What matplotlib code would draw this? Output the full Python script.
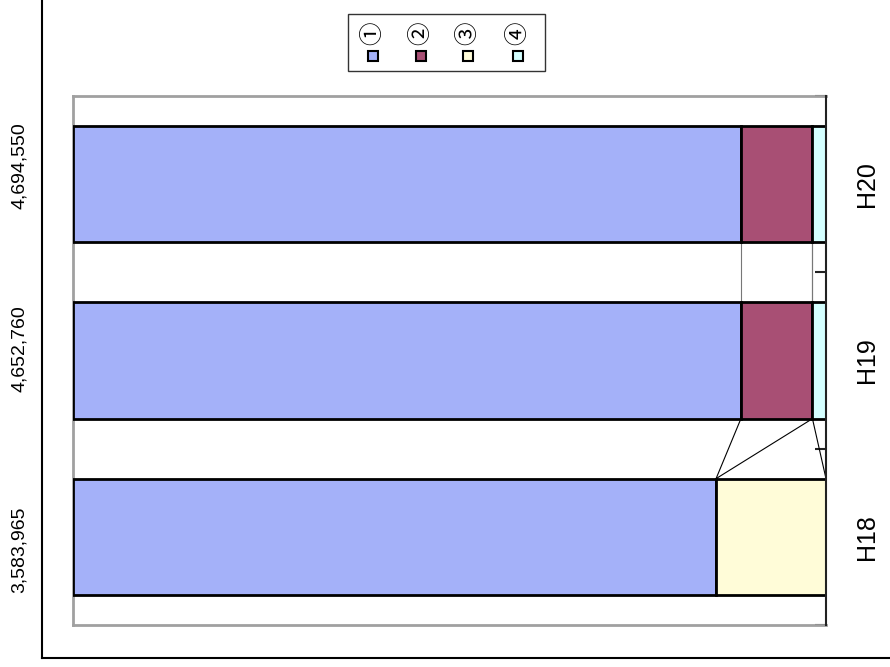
import matplotlib.pyplot as plt
import numpy as np
from matplotlib.patches import Rectangle
from matplotlib.lines import Line2D

years = ["H18", "H19", "H20"]
totals = ["3,583,965", "4,652,760", "4,694,550"]
total_pos = [-0.075, 1.065, 2.103]  # where the total labels sit (category units)
legend_labels = ["①", "②", "③", "④"]
colors = ["#A4B1F9", "#A84F74", "#FFFCD8", "#D4FFFF"]

# share of each item (%)
s1 = [85.4, 88.7, 88.7]
s2 = [0.0, 9.5, 9.5]
s3 = [14.6, 0.0, 0.0]
s4 = [0.0, 1.8, 1.8]
series = [s1, s2, s3, s4]

fig = plt.figure(figsize=(8.9, 6.67), dpi=100)
ax = fig.add_axes([73 / 890, 1 - 625 / 667, (826 - 73) / 890, (625 - 96) / 667])

y = np.arange(len(years))
h = 0.66
left = np.zeros(len(years))
cum = []
for vals, c in zip(series, colors):
    vals = np.array(vals)
    ax.barh(y, vals, left=left, height=h, color=c, edgecolor="black", linewidth=2, zorder=3)
    left = left + vals
    cum.append(left.copy())

# series lines between neighbouring bars
for k in range(len(series) - 1):
    for i in range(len(years) - 1):
        lc = "black" if i == 0 else "#777777"
        ax.plot([cum[k][i], cum[k][i + 1]], [i + h / 2, i + 1 - h / 2],
                color=lc, linewidth=0.8, zorder=2)

ax.set_xlim(0, 100)
ax.set_ylim(-0.5, len(years) - 0.5)
ax.set_xticks([])
ax.set_yticks(np.arange(-0.5, len(years), 1.0))
ax.set_yticklabels([])
ax.yaxis.tick_right()
ax.tick_params(axis="y", direction="in", length=8, width=1.5, color="#222222", right=True, left=False)
for side in ["left", "top", "bottom"]:
    ax.spines[side].set_color("#A0A0A0")
    ax.spines[side].set_linewidth(2)
ax.spines["right"].set_color("#222222")
ax.spines["right"].set_linewidth(1.5)
ax.spines["right"].set_zorder(5)

for i in range(len(years)):
    ax.text(-0.071, total_pos[i], totals[i], transform=ax.get_yaxis_transform(), rotation=90,
            ha="center", va="center", fontsize=14, family="Liberation Sans")
    ax.text(1.055, i, years[i], transform=ax.get_yaxis_transform(), rotation=90,
            ha="center", va="center", fontsize=18, family="Liberation Sans")

# legend drawn by hand (labels above swatches)
fig.patches.append(Rectangle((348 / 890, 1 - 71 / 667), 197 / 890, 57 / 667,
                             transform=fig.transFigure, facecolor="white",
                             edgecolor="#333333", linewidth=1))
lx = [373, 421, 468, 518]
for x, lab, c in zip(lx, legend_labels, colors):
    fig.text(x / 890, 1 - 33 / 667, lab, rotation=90, ha="center", va="center",
             fontsize=17, family=["Noto Sans CJK JP", "DejaVu Sans"])
    fig.patches.append(Rectangle(((x - 5) / 890, 1 - 61 / 667), 10 / 890, 10 / 667,
                                 transform=fig.transFigure, facecolor=c,
                                 edgecolor="black", linewidth=1.5))

# outer frame
fig.lines.append(Line2D([42 / 890, 42 / 890], [1, 1 - 658 / 667], transform=fig.transFigure,
                        color="black", linewidth=1.5))
fig.lines.append(Line2D([42 / 890, 1], [1 - 658 / 667, 1 - 658 / 667], transform=fig.transFigure,
                        color="black", linewidth=1.5))

fig.savefig("out.png", dpi=100)
